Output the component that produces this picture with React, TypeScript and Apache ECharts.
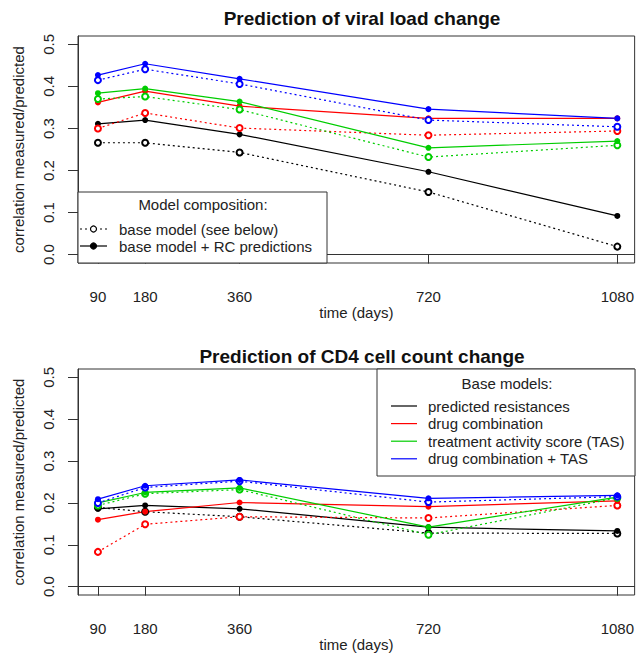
import React, { useEffect, useRef } from "react";
import * as echarts from "echarts";

// ---- data ----
const DAYS = [90, 180, 360, 720, 1080];
const Y_TICKS = [0, 0.1, 0.2, 0.3, 0.4, 0.5];

// Prediction of viral load change (solid = base model + RC predictions, dotted = base model)
const VL_RES_RC = [0.311, 0.32, 0.286, 0.197, 0.092];
const VL_RES = [0.266, 0.266, 0.243, 0.149, 0.019];
const VL_DRUG_RC = [0.362, 0.389, 0.353, 0.324, 0.324];
const VL_DRUG = [0.3, 0.337, 0.301, 0.284, 0.294];
const VL_TAS_RC = [0.384, 0.395, 0.364, 0.254, 0.27];
const VL_TAS = [0.37, 0.376, 0.345, 0.232, 0.26];
const VL_DRUGTAS_RC = [0.427, 0.454, 0.418, 0.346, 0.324];
const VL_DRUGTAS = [0.415, 0.441, 0.406, 0.32, 0.304];

// Prediction of CD4 cell count change
const CD_RES_RC = [0.186, 0.194, 0.186, 0.142, 0.133];
const CD_RES = [0.189, 0.179, 0.167, 0.128, 0.127];
const CD_DRUG_RC = [0.16, 0.179, 0.201, 0.191, 0.205];
const CD_DRUG = [0.083, 0.149, 0.167, 0.164, 0.194];
const CD_TAS_RC = [0.2, 0.225, 0.236, 0.142, 0.214];
const CD_TAS = [0.194, 0.222, 0.232, 0.124, 0.212];
const CD_DRUGTAS_RC = [0.209, 0.241, 0.255, 0.211, 0.218];
const CD_DRUGTAS = [0.2, 0.237, 0.252, 0.202, 0.215];

const BASE_MODELS = [
  "predicted resistances",
  "drug combination",
  "treatment activity score (TAS)",
  "drug combination + TAS",
];
const COLORS = ["#000000", "#FF0000", "#00CD00", "#0000FF"];
const TITLES = ["Prediction of viral load change", "Prediction of CD4 cell count change"];
const COMPOSITION = ["base model (see below)", "base model + RC predictions"];

const FONT = '"Liberation Sans", Arial, sans-serif';
const TXT = "#222";

export default function App() {
  const ref = useRef<HTMLDivElement>(null);
  useEffect(() => {
    if (!ref.current) return;
    const chart = echarts.init(ref.current, null, { renderer: "svg" });

    const plots = [
      {
        rc: [VL_RES_RC, VL_DRUG_RC, VL_TAS_RC, VL_DRUGTAS_RC],
        base: [VL_RES, VL_DRUG, VL_TAS, VL_DRUGTAS],
      },
      {
        rc: [CD_RES_RC, CD_DRUG_RC, CD_TAS_RC, CD_DRUGTAS_RC],
        base: [CD_RES, CD_DRUG, CD_TAS, CD_DRUGTAS],
      },
    ];

    const series: any[] = [];
    plots.forEach((p, pi) => {
      for (let k = 0; k < 4; k++) {
        series.push({
          type: "line",
          name: BASE_MODELS[k] + " (base)",
          xAxisIndex: pi,
          yAxisIndex: pi,
          data: DAYS.map((d, i) => [d, p.base[k][i]]),
          symbol: "emptyCircle",
          symbolSize: 6,
          lineStyle: { color: COLORS[k], width: 1.2, type: [2, 3] },
          itemStyle: { color: COLORS[k], borderColor: COLORS[k], borderWidth: 1.2 },
        });
        series.push({
          type: "line",
          name: BASE_MODELS[k] + " + RC",
          xAxisIndex: pi,
          yAxisIndex: pi,
          data: DAYS.map((d, i) => [d, p.rc[k][i]]),
          symbol: "circle",
          symbolSize: 6,
          lineStyle: { color: COLORS[k], width: 1.2 },
          itemStyle: { color: COLORS[k] },
        });
      }
    });

    const gridTops = [36, 369];
    const xAxis = gridTops.map((_, i) => ({
      type: "value",
      gridIndex: i,
      min: 52,
      max: 1113,
      axisLine: { show: true, lineStyle: { color: "#333", width: 1 } },
      axisTick: { show: true, length: 9, customValues: DAYS, lineStyle: { color: "#333" } },
      axisLabel: {
        customValues: DAYS,
        margin: 26,
        fontSize: 15,
        fontFamily: FONT,
        color: TXT,
        formatter: (v: number) => String(v),
      },
      splitLine: { show: false },
      name: "time (days)",
      nameLocation: "middle",
      nameGap: 42,
      nameTextStyle: { fontSize: 15, fontFamily: FONT, color: TXT },
    }));
    const yAxis = gridTops.map((_, i) => ({
      type: "value",
      gridIndex: i,
      min: -0.02,
      max: 0.52,
      axisLine: { show: true, lineStyle: { color: "#333", width: 1 } },
      axisTick: { show: true, length: 10, customValues: Y_TICKS, lineStyle: { color: "#333" } },
      axisLabel: {
        customValues: Y_TICKS,
        rotate: 90,
        margin: 22,
        fontSize: 15,
        fontFamily: FONT,
        color: TXT,
        formatter: (v: number) => v.toFixed(1),
      },
      splitLine: { show: false },
      name: "correlation measured/predicted",
      nameLocation: "middle",
      nameRotate: 90,
      nameGap: 52,
      nameTextStyle: { fontSize: 15, fontFamily: FONT, color: TXT },
    }));

    const graphic: any[] = [];
    // top legend
    graphic.push({
      type: "rect",
      shape: { x: 78, y: 192, width: 249, height: 71 },
      style: { fill: "#fff", stroke: "#333", lineWidth: 1 },
      z: 100,
    });
    graphic.push({
      type: "text",
      z: 101,
      style: {
        text: "Model composition:",
        x: 203,
        y: 204,
        align: "center",
        verticalAlign: "middle",
        font: `15px ${FONT}`,
        fill: TXT,
      },
    });
    COMPOSITION.forEach((t, i) => {
      const y = 229 + i * 17;
      graphic.push({
        type: "line",
        z: 101,
        shape: { x1: 80, y1: y, x2: 107, y2: y },
        style: { stroke: "#000", lineWidth: 1.2, lineDash: i === 0 ? [2, 3] : null },
      });
      graphic.push({
        type: "circle",
        z: 102,
        shape: { cx: 93.5, cy: y, r: 3 },
        style: { fill: i === 0 ? "#fff" : "#000", stroke: "#000", lineWidth: 1.2 },
      });
      graphic.push({
        type: "text",
        z: 101,
        style: { text: t, x: 119, y, verticalAlign: "middle", font: `15px ${FONT}`, fill: TXT },
      });
    });
    // bottom legend
    graphic.push({
      type: "rect",
      shape: { x: 377, y: 369, width: 258, height: 107 },
      style: { fill: "#fff", stroke: "#333", lineWidth: 1 },
      z: 100,
    });
    graphic.push({
      type: "text",
      z: 101,
      style: {
        text: "Base models:",
        x: 507,
        y: 383,
        align: "center",
        verticalAlign: "middle",
        font: `15px ${FONT}`,
        fill: TXT,
      },
    });
    BASE_MODELS.forEach((t, i) => {
      const y = 406 + i * 17.6;
      graphic.push({
        type: "line",
        z: 101,
        shape: { x1: 391, y1: y, x2: 417, y2: y },
        style: { stroke: COLORS[i], lineWidth: 1.2 },
      });
      graphic.push({
        type: "text",
        z: 101,
        style: { text: t, x: 428, y, verticalAlign: "middle", font: `15px ${FONT}`, fill: TXT },
      });
    });

    chart.setOption({
      animation: false,
      backgroundColor: "#fff",
      title: TITLES.map((t, i) => ({
        text: t,
        left: 357,
        textAlign: "center",
        top: i === 0 ? 4 : 342,
        textStyle: { fontSize: 19, fontWeight: "bold", fontFamily: FONT, color: "#111" },
      })),
      grid: gridTops.map((top) => ({
        left: 78,
        top,
        width: 557,
        height: 227,
        show: true,
        borderColor: "#333",
        borderWidth: 1,
        containLabel: false,
      })),
      xAxis,
      yAxis,
      series,
      graphic,
    });
    return () => chart.dispose();
  }, []);
  return (
    <div
      ref={ref}
      style={{ position: "absolute", left: 0, top: 0, width: 637, height: 653 }}
    />
  );
}
